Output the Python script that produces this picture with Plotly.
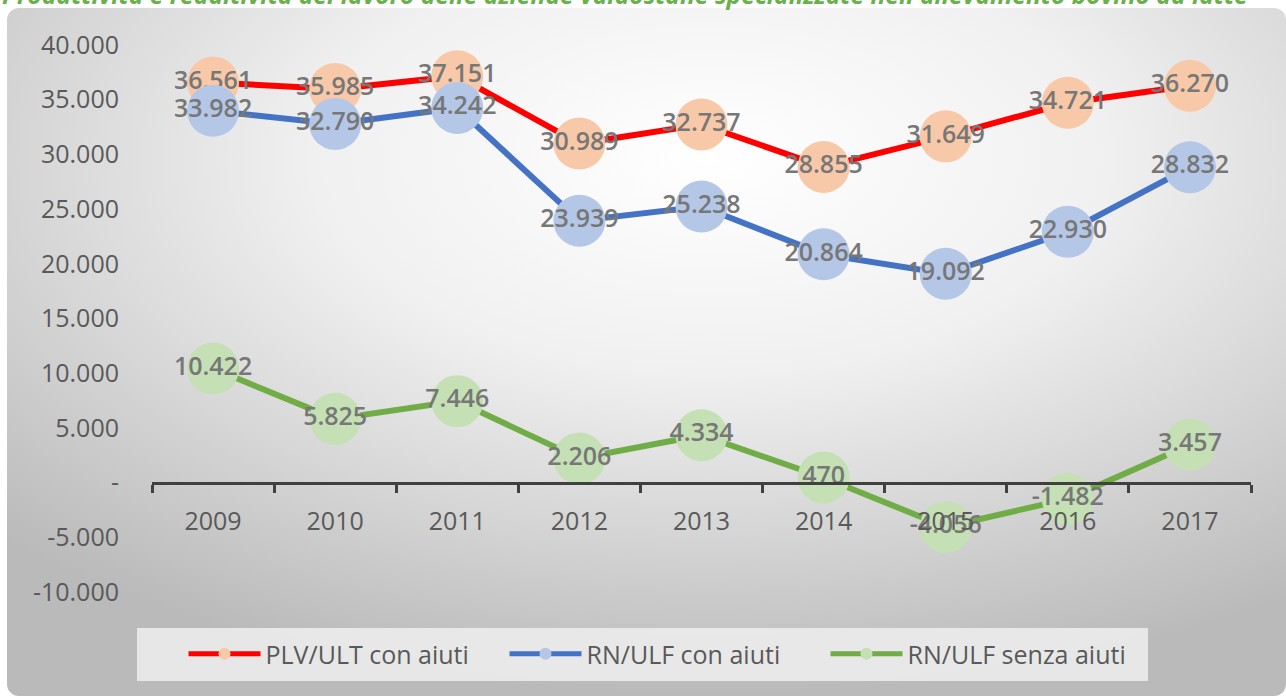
import base64
import plotly.graph_objects as go

years = ["2009", "2010", "2011", "2012", "2013", "2014", "2015", "2016", "2017"]
plv_ult_con = [36561, 35985, 37151, 30989, 32737, 28855, 31649, 34721, 36270]
rn_ulf_con = [33982, 32790, 34242, 23939, 25238, 20864, 19092, 22930, 28832]
rn_ulf_senza = [10422, 5825, 7446, 2206, 4334, 470, -4056, -1482, 3457]
series_names = ["PLV/ULT con aiuti", "RN/ULF con aiuti", "RN/ULF senza aiuti"]
y_tickvals = [-10000, -5000, 0, 5000, 10000, 15000, 20000, 25000, 30000, 35000, 40000]
y_ticktext = ["-10.000", "-5.000", "-", "5.000", "10.000", "15.000", "20.000",
              "25.000", "30.000", "35.000", "40.000"]
title_text = ("Produttività e redditività del lavoro delle aziende valdostane "
              "specializzate nell'allevamento bovino da latte")

W, H = 1286, 696
ML, MT = 152, 45
PR, PB = 1251, 592
MR, MB = W - PR, H - PB
PW, PH = PR - ML, PB - MT

def px_x(p):  # page pixel -> paper
    return (p - ML) / PW

def px_y(p):
    return 1 - (p - MT) / PH

def fmt(v):
    return f"{v:,}".replace(",", ".")

line_colors = ["#ff0000", "#4472c4", "#70ad47"]
marker_colors = ["#f8c9a8", "#b4c7e7", "#c5e0b4"]
all_series = [plv_ult_con, rn_ulf_con, rn_ulf_senza]

FONT = "Open Sans"
fig = go.Figure()
for name, vals, lc, mc in zip(series_names, all_series, line_colors, marker_colors):
    fig.add_trace(go.Scatter(
        x=years, y=vals, name=name, mode="lines+markers+text",
        line=dict(color=lc, width=6),
        marker=dict(color=mc, size=52, line=dict(width=0)),
        text=[fmt(v) for v in vals], textposition="middle center",
        textfont=dict(family=FONT, size=25, color="#777777", weight=600),
        cliponaxis=False,
    ))

# background frame with radial gradient
fx0, fy0 = 7, 8
fw, fh = W - fx0, H - fy0
svg = (f"<svg xmlns='http://www.w3.org/2000/svg' width='{fw}' height='{fh}' "
       f"viewBox='0 0 {fw} {fh}' preserveAspectRatio='none'>"
       "<defs><radialGradient id='g' cx='0.55' cy='0.22' r='0.78'>"
       "<stop offset='0' stop-color='#ffffff'/>"
       "<stop offset='0.4' stop-color='#f0f0f0'/>"
       "<stop offset='1' stop-color='#bababa'/>"
       "</radialGradient></defs>"
       f"<rect x='0' y='0' width='{fw}' height='{fh}' rx='12' fill='url(#g)'/></svg>")
src = "data:image/svg+xml;base64," + base64.b64encode(svg.encode()).decode()

fig.add_layout_image(dict(
    source=src, xref="paper", yref="paper",
    x=px_x(fx0), y=px_y(fy0), sizex=fw / PW, sizey=fh / PH,
    xanchor="left", yanchor="top", sizing="stretch", layer="below",
))

# legend background box
fig.add_shape(type="rect", xref="paper", yref="paper",
              x0=px_x(137), x1=px_x(1148), y0=px_y(681), y1=px_y(628),
              fillcolor="rgba(236,236,236,0.9)", line=dict(width=0), layer="below")

fig.add_annotation(
    text=f"<b><i>{title_text}</i></b>", xref="paper", yref="paper",
    x=px_x(0), y=px_y(13), xanchor="left", yanchor="bottom", showarrow=False,
    font=dict(family=FONT, size=24.6, color="#6ab04c"),
)

fig.update_layout(
    width=W, height=H,
    margin=dict(l=ML, r=MR, t=MT, b=MB),
    paper_bgcolor="white", plot_bgcolor="rgba(0,0,0,0)",
    showlegend=True,
    legend=dict(orientation="h", x=px_x(665), y=px_y(654), xanchor="center",
                yanchor="middle", bgcolor="rgba(0,0,0,0)",
                font=dict(family=FONT, size=25, color="#595959"),
                itemsizing="constant", itemwidth=72, traceorder="normal",
                entrywidth=234, entrywidthmode="pixels"),
    xaxis=dict(type="category", anchor="free", position=0.2,
               showline=True, linecolor="#404040", linewidth=3,
               ticks="outside", ticklen=8, tickwidth=3, tickcolor="#404040",
               tickson="boundaries", showgrid=False,
               tickfont=dict(family=FONT, size=25, color="#595959"),
               ticklabelstandoff=15, range=[-0.5, 8.5]),
    yaxis=dict(range=[-10000, 40000], tickvals=y_tickvals, ticktext=y_ticktext,
               showgrid=False, zeroline=False, showline=False, ticks="",
               tickfont=dict(family=FONT, size=25, color="#595959"),
               ticklabelstandoff=32),
)

fig.write_html("out.html", config={"displayModeBar": False},
               post_script="document.body.style.margin='0';")
